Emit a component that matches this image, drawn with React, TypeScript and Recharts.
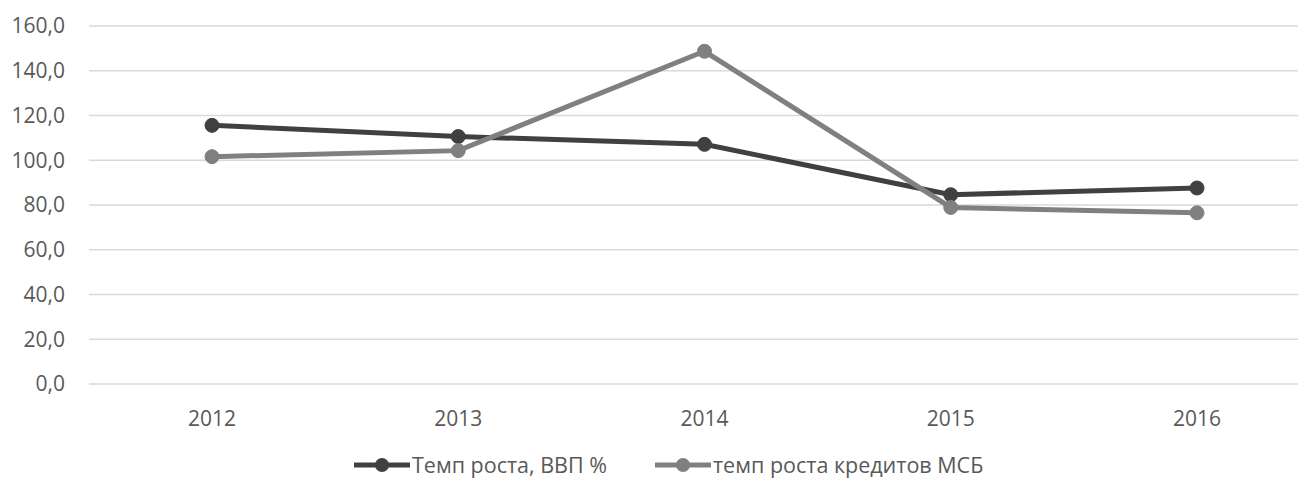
import React from "react";
import { LineChart, Line, XAxis, YAxis, CartesianGrid, Legend } from "recharts";

const years = ["2012", "2013", "2014", "2015", "2016"];
const gdpGrowth = [115.6, 110.6, 107.1, 84.6, 87.6];
const smeCreditGrowth = [101.6, 104.3, 148.7, 78.9, 76.5];
const yTicks = [0, 20, 40, 60, 80, 100, 120, 140, 160];

const seriesInfo = [
  { key: "gdp", name: "Темп роста, ВВП %", color: "#404040" },
  { key: "sme", name: "темп роста кредитов МСБ", color: "#808080" }
];

const data = years.map((year, i) => ({
  year,
  gdp: gdpGrowth[i],
  sme: smeCreditGrowth[i]
}));

const fontFamily = "'Open Sans', sans-serif";

function LegendContent() {
  return (
    <div style={{ display: "flex", alignItems: "center", fontFamily, fontSize: 21.5, color: "#595959", lineHeight: "24px" }}>
      {seriesInfo.map((s, i) => (
        <div key={s.key} style={{ display: "flex", alignItems: "center", marginRight: i === 0 ? 48 : 0 }}>
          <svg width={56} height={16} style={{ marginRight: 2 }}>
            <line x1={0} y1={8} x2={56} y2={8} stroke={s.color} strokeWidth={5} />
            <circle cx={28} cy={8} r={7} fill={s.color} />
          </svg>
          <span>{s.name}</span>
        </div>
      ))}
    </div>
  );
}

export default function App() {
  return (
    <div style={{ position: "absolute", left: 0, top: 0, width: 1298, height: 479, overflow: "hidden", background: "#fff" }}>
      <LineChart width={1320} height={479} data={data} margin={{ top: 26, right: 0, left: 0, bottom: 2 }}>
        <CartesianGrid vertical={false} stroke="#d9d9d9" strokeWidth={1.5} />
        <XAxis
          dataKey="year"
          axisLine={false}
          tickLine={false}
          padding={{ left: 123, right: 123 }}
          tick={{ fill: "#595959", fontSize: 21, fontFamily }}
          tickMargin={21}
          height={69}
        />
        <YAxis
          domain={[0, 160]}
          ticks={yTicks}
          axisLine={false}
          tickLine={false}
          width={89}
          tickMargin={18}
          tick={{ fill: "#595959", fontSize: 21, fontFamily }}
          tickFormatter={(v: number) => v.toFixed(1).replace(".", ",")}
        />
        <Legend
          verticalAlign="bottom"
          height={24}
          content={<LegendContent />}
          wrapperStyle={{ left: 354, width: "auto", bottom: 2 }}
        />
        {seriesInfo.map((s) => (
          <Line
            key={s.key}
            dataKey={s.key}
            name={s.name}
            type="linear"
            stroke={s.color}
            strokeWidth={5}
            dot={{ r: 7, fill: s.color, stroke: s.color, strokeWidth: 1 }}
            isAnimationActive={false}
          />
        ))}
      </LineChart>
    </div>
  );
}
